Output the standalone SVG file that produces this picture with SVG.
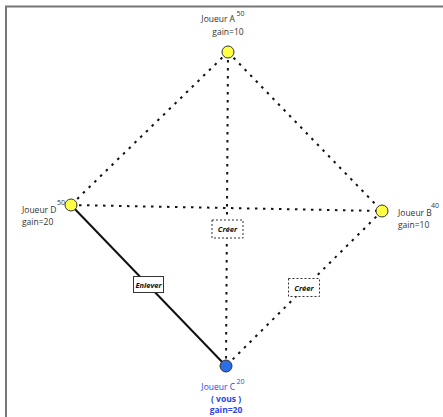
<svg xmlns="http://www.w3.org/2000/svg" width="443" height="417" viewBox="0 0 443 417">
<style>
text{font-family:"Open Sans","Noto Sans","Liberation Sans",sans-serif;font-size:8.5px;fill:#333}
.sup{font-size:7px}
.dot{stroke:#111;stroke-width:2;stroke-dasharray:2.5,5.5;fill:none}
.solid{stroke:#111;stroke-width:2;fill:none}
.lbl{font-style:italic;font-weight:bold;font-size:7.5px;fill:#111}
.you{fill:#2a46e8}
</style>
<rect x="0" y="0" width="443" height="417" fill="#fff"/>
<path d="M6 417V6.5H443" stroke="#777" stroke-width="2" fill="none"/>
<g id="connectors">
<line class="dot" x1="228" y1="52" x2="71" y2="205"/>
<line class="dot" x1="228" y1="52" x2="382" y2="211"/>
<line class="dot" x1="228" y1="52" x2="226" y2="366"/>
<line class="dot" x1="71" y1="205" x2="382" y2="211"/>
<line class="solid" x1="71" y1="205" x2="226" y2="366"/>
<line class="dot" x1="382" y1="211" x2="226" y2="366"/>
<g id="lbl-creer1"><rect x="212" y="220" width="31" height="18" fill="#fff" stroke="#333" stroke-dasharray="2,2"/><text class="lbl" x="227.5" y="232" text-anchor="middle">Créer</text></g>
<g id="lbl-creer2"><rect x="288.5" y="278.5" width="31" height="18" fill="#fff" stroke="#333" stroke-dasharray="2,2"/><text class="lbl" x="304" y="290.5" text-anchor="middle">Créer</text></g>
<g id="lbl-enlever"><rect x="133.5" y="276.5" width="30" height="16" fill="#fff" stroke="#333"/><text class="lbl" x="148.5" y="287.5" text-anchor="middle">Enlever</text></g>
</g>
<g id="nodeA"><circle cx="228" cy="52" r="6" fill="#ffff44" stroke="#333"/><text x="235" y="22" text-anchor="end">Joueur A</text><text class="sup" x="236.5" y="16">50</text><text x="228" y="35" text-anchor="middle">gain=10</text></g>
<g id="nodeD"><circle cx="71" cy="205" r="6" fill="#ffff44" stroke="#333"/><text x="22" y="213">Joueur D</text><text class="sup" x="57" y="205">50</text><text x="22" y="225">gain=20</text></g>
<g id="nodeB"><circle cx="382" cy="211" r="6" fill="#ffff44" stroke="#333"/><text x="398" y="216">Joueur B</text><text class="sup" x="431" y="208">40</text><text x="398" y="228">gain=10</text></g>
<g id="nodeC"><circle cx="226" cy="366" r="6" fill="#2a6ee8" stroke="#333"/><text class="you" x="235" y="390" text-anchor="end">Joueur C</text><text class="sup you" x="236.5" y="384">20</text><text class="you" x="226" y="402" text-anchor="middle" font-weight="bold">( vous )</text><text class="you" x="226" y="413" text-anchor="middle" font-weight="bold">gain=20</text></g>
</svg>
